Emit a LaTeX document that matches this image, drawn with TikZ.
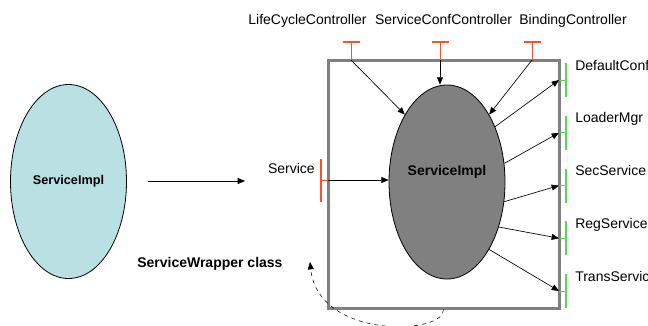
\documentclass[tikz,border=0pt]{standalone}
\usepackage{fontspec}
\setmainfont{Liberation Sans}
\usetikzlibrary{positioning,shapes.geometric,arrows.meta}
\definecolor{implcyan}{RGB}{185,224,226}
\definecolor{implgray}{RGB}{128,128,128}
\definecolor{wrapgray}{RGB}{128,128,128}
\definecolor{ctrlred}{RGB}{255,80,40}
\definecolor{itfgreen}{RGB}{80,220,80}
\tikzset{
    lbl/.style={
        font=\fontsize{10.5}{12}\selectfont,
        inner sep=0pt,
    },
    % Implementation
    impl/.style={
        draw=black,
        line width=0.6pt,
        ellipse,
        minimum width=87pt,
        minimum height=145.5pt,
        inner sep=0pt,
    },
    % Wrapper
    wrapper/.style={
        draw=wrapgray,
        line width=2.25pt,
        rectangle,
        minimum width=173.25pt,
        minimum height=186pt,
        inner sep=0pt,
    },
    % Controller
    ctrl/.style={
        draw=ctrlred,
        line width=1.5pt,
    },
    % Interface
    itf/.style={
        draw=itfgreen,
        line width=1.5pt,
    },
    conn/.style={
        -{Triangle[length=5.5pt,width=4.5pt]},
        line width=0.5pt,
    },
}

\begin{document}
\begin{tikzpicture}[x=0.75pt,y=-0.75pt]
    \useasboundingbox (0,0) rectangle (648,325);

    % Plain implementation
    \node[impl, fill=implcyan, font=\bfseries\fontsize{9.5}{11}\selectfont] (plain) at (68.5,181.5) {ServiceImpl};
    \coordinate (gapL) at (148,181);
    \coordinate (gapR) at (245,181);
    \draw[conn] (gapL) -- (gapR);

    % Wrapper with the wrapped implementation
    \node[wrapper] (wrap) at (443.5,184) {};
    \node[impl, fill=implgray,
        label={[lbl, font=\bfseries\fontsize{10.5}{12}\selectfont, yshift=7.5pt]center:ServiceImpl}]
        (impl) at (447,182) {};

    \node[lbl, font=\bfseries\fontsize{10.5}{12}\selectfont, anchor=base west] (wraplbl) at (137,267) {ServiceWrapper class};
    \coordinate (wraptip) at (310,262);
    \draw[conn, dashed, line width=0.4pt] (wrap.south) .. controls (445,335) and (318,340) .. (wraptip);

    % Service interface
    \coordinate (svc) at (328,180);
    \draw[ctrl] (321,159) -- (321,202);
    \draw[ctrlred, line width=0.75pt] (321,180) -- (svc);
    \node[lbl, anchor=base east] (svclbl) at (315,173) {Service};
    \draw[conn] (svc) -- (svc -| impl.west);

    % Controllers
    \foreach \i/\x/\t/\tx in {1/351/LifeCycleController/307.5,
                              2/440/ServiceConfController/443.5,
                              3/532/BindingController/573} {
        \coordinate (ctrl\i) at (\x,60);
        \draw[ctrl] (\x-8.5,42) -- (\x+8.5,42);
        \draw[ctrlred, line width=0.75pt] (\x,42) -- (ctrl\i);
        \node[lbl, anchor=base] (ctrllbl\i) at (\tx,24) {\t};
    }
    \draw[conn] (ctrl1) -- (impl.122);
    \draw[conn] (ctrl2) -- (ctrl2 |- impl.north);
    \draw[conn] (ctrl3) -- (impl.58.7);

    % Client interfaces
    \foreach \i/\a/\t in {0/49.7/DefaultConf,
                          1/18.7/LoaderMgr,
                          2/-19/SecService,
                          3/-41/RegService,
                          4/-58.8/TransServic} {
        \pgfmathsetmacro{\y}{80+52.75*\i}
        \coordinate (itf\i) at (559,\y);
        \draw[itf] (566,\y-17) -- (566,\y+17);
        \draw[itfgreen, line width=0.75pt] (itf\i) -- (566,\y);
        \node[lbl, anchor=base west] (itflbl\i) at (575,\y-10) {\t};
        \draw[conn] (impl.\a) -- (itf\i);
    }
\end{tikzpicture}
\end{document}
